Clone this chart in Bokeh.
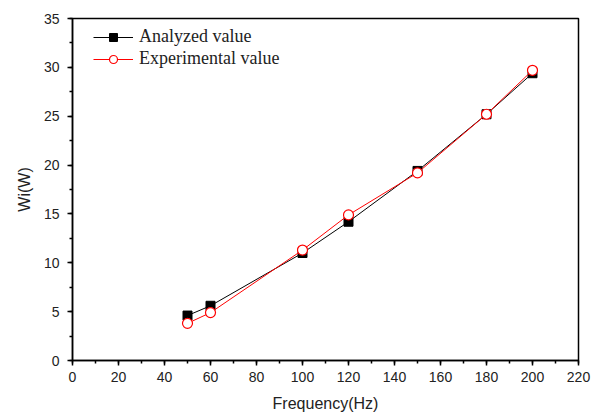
from bokeh.plotting import figure
from bokeh.models import Range1d, SingleIntervalTicker, Legend, LegendItem
from bokeh.embed import file_html
from bokeh.resources import INLINE

freq = [50, 60, 100, 120, 150, 180, 200]
analyzed = [4.6, 5.6, 11.0, 14.2, 19.4, 25.2, 29.4]
experimental = [3.8, 4.9, 11.3, 14.9, 19.2, 25.2, 29.7]

p = figure(width=598, height=414, output_backend="svg", toolbar_location=None,
           x_range=Range1d(0, 220), y_range=Range1d(0, 35),
           min_border_left=72, min_border_right=20, min_border_top=18, min_border_bottom=53)
p.grid.visible = False
p.outline_line_color = "black"
p.outline_line_width = 1.5
p.background_fill_color = "white"
p.border_fill_color = "white"

p.xaxis.ticker = SingleIntervalTicker(interval=20, num_minor_ticks=2)
p.yaxis.ticker = SingleIntervalTicker(interval=5, num_minor_ticks=2)
for ax in (p.xaxis, p.yaxis):
    ax.axis_line_width = 1.5
    ax.major_tick_line_width = 1.5
    ax.minor_tick_line_width = 1.5
    ax.major_tick_in = 0
    ax.major_tick_out = 5
    ax.minor_tick_in = 0
    ax.minor_tick_out = 3
    ax.major_label_text_font = "Liberation Sans"
    ax.major_label_text_font_size = "14px"
    ax.major_label_text_color = "#222222"
    ax.axis_label_text_font = "Liberation Sans"
    ax.axis_label_text_font_size = "16px"
    ax.axis_label_text_font_style = "normal"
    ax.axis_label_text_color = "#222222"
p.xaxis.axis_label = "Frequency(Hz)"
p.yaxis.axis_label = "Wi(W)"
p.xaxis.major_label_standoff = 6
p.yaxis.major_label_standoff = 8
p.xaxis.axis_label_standoff = 10
p.yaxis.axis_label_standoff = 8

l1 = p.line(freq, analyzed, line_color="black", line_width=1)
s1 = p.scatter(freq, analyzed, marker="square", size=9, fill_color="black", line_color="black")
l2 = p.line(freq, experimental, line_color="red", line_width=1)
s2 = p.scatter(freq, experimental, marker="circle", size=10, fill_color="white", line_color="red", line_width=1.2)

legend = Legend(items=[LegendItem(label="Analyzed value", renderers=[l1, s1]),
                       LegendItem(label="Experimental value", renderers=[l2, s2])],
                location=(21, 291))
legend.border_line_color = None
legend.background_fill_alpha = 0
legend.label_text_font = "Liberation Serif"
legend.label_text_font_size = "18px"
legend.label_text_color = "#222222"
legend.glyph_width = 40
legend.glyph_height = 20
legend.label_height = 20
legend.spacing = 1
legend.padding = 0
legend.margin = 0
legend.label_standoff = 6
p.add_layout(legend)

open("out.html", "w").write(file_html(p, INLINE))
